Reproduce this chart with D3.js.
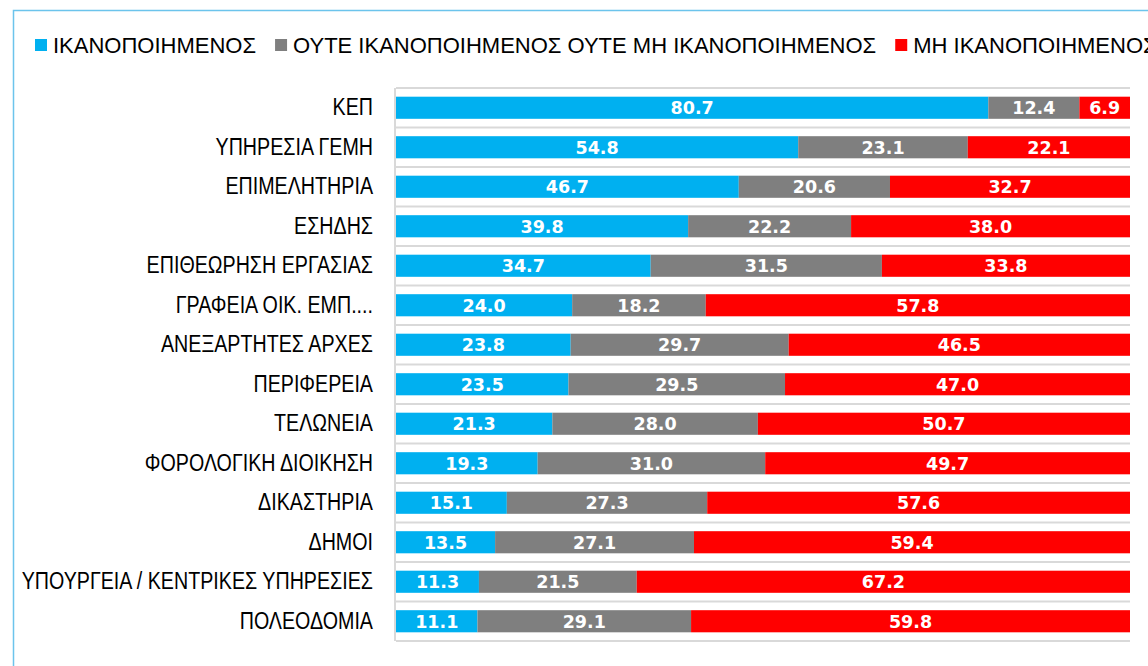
<!DOCTYPE html>
<html>
<head>
  <meta charset="utf-8">
  <script src="https://cdnjs.cloudflare.com/ajax/libs/d3/7.8.5/d3.min.js"></script>
  <style>
    body { margin: 0; background: #fff; }
    svg { display: block; }
    .cat { font-family: "Liberation Sans", Arial, sans-serif; font-size: 24px; fill: #000; }
    .leg { font-family: "Liberation Sans", Arial, sans-serif; font-size: 22px; fill: #000; }
    .val { font-family: "DejaVu Sans", sans-serif; font-weight: bold; font-size: 17.5px; fill: #fff; }
  </style>
</head>
<body>
<svg width="1148" height="666"></svg>
<script>
var categories = ["ΚΕΠ", "ΥΠΗΡΕΣΙΑ ΓΕΜΗ", "ΕΠΙΜΕΛΗΤΗΡΙΑ", "ΕΣΗΔΗΣ", "ΕΠΙΘΕΩΡΗΣΗ ΕΡΓΑΣΙΑΣ",
                  "ΓΡΑΦΕΙΑ ΟΙΚ. ΕΜΠ....", "ΑΝΕΞΑΡΤΗΤΕΣ ΑΡΧΕΣ", "ΠΕΡΙΦΕΡΕΙΑ", "ΤΕΛΩΝΕΙΑ",
                  "ΦΟΡΟΛΟΓΙΚΗ ΔΙΟΙΚΗΣΗ", "ΔΙΚΑΣΤΗΡΙΑ", "ΔΗΜΟΙ", "ΥΠΟΥΡΓΕΙΑ / ΚΕΝΤΡΙΚΕΣ ΥΠΗΡΕΣΙΕΣ", "ΠΟΛΕΟΔΟΜΙΑ"];
var satisfied   = [80.7, 54.8, 46.7, 39.8, 34.7, 24.0, 23.8, 23.5, 21.3, 19.3, 15.1, 13.5, 11.3, 11.1];
var neutral     = [12.4, 23.1, 20.6, 22.2, 31.5, 18.2, 29.7, 29.5, 28.0, 31.0, 27.3, 27.1, 21.5, 29.1];
var unsatisfied = [ 6.9, 22.1, 32.7, 38.0, 33.8, 57.8, 46.5, 47.0, 50.7, 49.7, 57.6, 59.4, 67.2, 59.8];
var seriesNames = ["ΙΚΑΝΟΠΟΙΗΜΕΝΟΣ", "ΟΥΤΕ ΙΚΑΝΟΠΟΙΗΜΕΝΟΣ ΟΥΤΕ ΜΗ ΙΚΑΝΟΠΟΙΗΜΕΝΟΣ", "ΜΗ ΙΚΑΝΟΠΟΙΗΜΕΝΟΣ"];
var colors = ["#00b0f0", "#7f7f7f", "#ff0000"];

var svg = d3.select("svg");

// outer frame (runs past the right/bottom edge)
svg.append("rect")
  .attr("x", 13.5).attr("y", 10.5)
  .attr("width", 1300).attr("height", 800)
  .attr("fill", "none")
  .attr("stroke", "#6cc4ec")
  .attr("stroke-width", 1.5);

var rows = categories.map((c, i) => ({cat: c, v: [satisfied[i], neutral[i], unsatisfied[i]]}));

var x = d3.scaleLinear().domain([0, 100]).range([396, 1130]);
var y = d3.scaleBand().domain(categories).range([88, 641])
          .paddingInner(0.44).paddingOuter(0.22);

// gridlines at row boundaries
var g = svg.append("g");
d3.range(categories.length + 1).forEach(i => {
  var yy = y.range()[0] + i * y.step();
  g.append("line")
    .attr("x1", x(0)).attr("x2", x(100))
    .attr("y1", yy).attr("y2", yy)
    .attr("stroke", "#d9d9d9").attr("stroke-width", 2);
});
g.append("line")
  .attr("x1", x(0) - 1).attr("x2", x(0) - 1)
  .attr("y1", y.range()[0]).attr("y2", y.range()[1])
  .attr("stroke", "#d9d9d9").attr("stroke-width", 2);

// category labels via axis (narrowed to mimic a condensed face)
var squeeze = 0.82;
var yAxis = svg.append("g")
  .attr("transform", "translate(" + (x(0) - 1) + ",0)")
  .call(d3.axisLeft(y).tickSize(0).tickPadding(22));
yAxis.select(".domain").remove();
yAxis.selectAll("text")
  .attr("class", "cat").attr("fill", null).attr("font-size", null).attr("font-family", null)
  .attr("x", -22 / squeeze)
  .attr("transform", "scale(" + squeeze + ",1)");

// stacked bars
rows.forEach(r => {
  var start = 0;
  r.v.forEach((v, k) => {
    var gr = svg.append("g");
    gr.append("rect")
      .attr("x", x(start))
      .attr("y", y(r.cat))
      .attr("width", x(start + v) - x(start))
      .attr("height", y.bandwidth())
      .attr("fill", colors[k]);
    gr.append("text")
      .attr("class", "val")
      .attr("x", x(start + v / 2))
      .attr("y", y(r.cat) + y.bandwidth() / 2)
      .attr("dy", "0.36em")
      .attr("text-anchor", "middle")
      .text(v.toFixed(1));
    start += v;
  });
});

// legend
var legend = svg.append("g").attr("transform", "translate(35,45)");
var lx = 0;
seriesNames.forEach((name, k) => {
  legend.append("rect")
    .attr("x", lx).attr("y", -6)
    .attr("width", 12).attr("height", 12)
    .attr("fill", colors[k]);
  var t = legend.append("text")
    .attr("class", "leg")
    .attr("x", lx + 18)
    .attr("dy", "0.36em")
    .text(name);
  lx += 18 + t.node().getComputedTextLength() + 19;
});
</script>
</body>
</html>
